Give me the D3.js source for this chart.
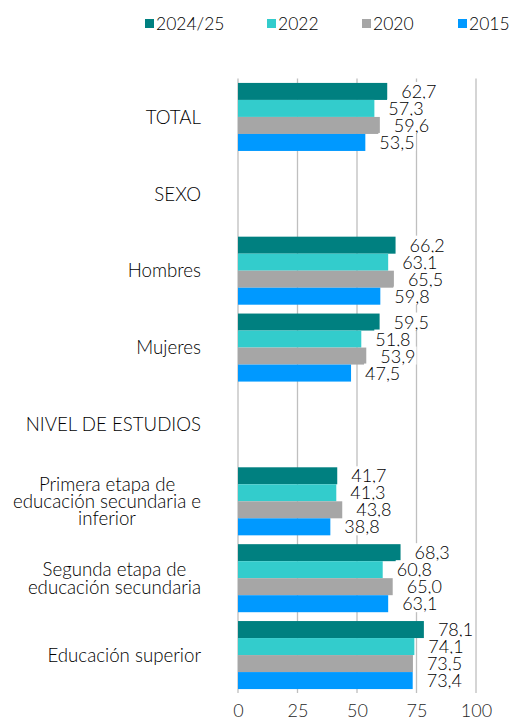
<!DOCTYPE html>
<html>
<head>
<meta charset="utf-8">
<script src="https://cdn.jsdelivr.net/npm/d3@7"></script>
<style>
  html, body { margin: 0; padding: 0; background: #fff; }
  svg { display: block; font-family: Lato, "Noto Sans", sans-serif; font-weight: 300; }
</style>
</head>
<body>
<svg id="chart" width="509" height="720"></svg>
<script>
// Categories (rows); SEXO and NIVEL DE ESTUDIOS are section headers without bars
const categories = [
  "TOTAL",
  "SEXO",
  "Hombres",
  "Mujeres",
  "NIVEL DE ESTUDIOS",
  "Primera etapa de educación secundaria e inferior",
  "Segunda etapa de educación secundaria",
  "Educación superior"
];
const categoryLines = [
  ["TOTAL"],
  ["SEXO"],
  ["Hombres"],
  ["Mujeres"],
  ["NIVEL DE ESTUDIOS"],
  ["Primera etapa de", "educación secundaria e", "inferior"],
  ["Segunda etapa de", "educación secundaria"],
  ["Educación superior"]
];
const seriesNames = ["2024/25", "2022", "2020", "2015"];
const values2024 = [62.7, null, 66.2, 59.5, null, 41.7, 68.3, 78.1];
const values2022 = [57.3, null, 63.1, 51.8, null, 41.3, 60.8, 74.1];
const values2020 = [59.6, null, 65.5, 53.9, null, 43.8, 65.0, 73.5];
const values2015 = [53.5, null, 59.8, 47.5, null, 38.8, 63.1, 73.4];
const xTicks = [0, 25, 50, 75, 100];

const seriesValues = [values2024, values2022, values2020, values2015];
const colors = ["#008080", "#33CCCC", "#A6A6A6", "#0099FF"];

const svg = d3.select("#chart");
const textColor = "#000";

const x = d3.scaleLinear().domain([0, 100]).range([238, 476]);
const y = d3.scaleBand().domain(categories).range([78.5, 693.5])
  .paddingInner(0.115).paddingOuter(0.0575);
const ySub = d3.scaleBand().domain(seriesNames).range([0, y.bandwidth()]);
const color = d3.scaleOrdinal().domain(seriesNames).range(colors);

// Vertical gridlines
svg.append("g")
  .selectAll("line")
  .data(xTicks)
  .join("line")
  .attr("x1", d => x(d)).attr("x2", d => x(d))
  .attr("y1", 78.5).attr("y2", 693)
  .attr("stroke", "#BFBFBF")
  .attr("stroke-width", 1.3);

// Bottom axis labels
const axis = d3.axisBottom(x).tickValues(xTicks).tickSize(0).tickPadding(0)
  .tickFormat(d3.format("d"));
const axisG = svg.append("g").attr("transform", "translate(0,717)").call(axis);
axisG.select(".domain").remove();
axisG.selectAll("text")
  .attr("font-size", 18).attr("fill", "#262626")
  .attr("font-family", "Lato, sans-serif")
  .attr("font-weight", 300)
  .attr("dy", 0).attr("y", 0);

// One record per drawn bar
const records = [];
categories.forEach((c, i) => {
  seriesNames.forEach((s, j) => {
    const v = seriesValues[j][i];
    if (v != null) records.push({ cat: c, series: s, value: v });
  });
});

// Bars
svg.append("g")
  .selectAll("rect")
  .data(records)
  .join("rect")
  .attr("x", x(0))
  .attr("y", d => y(d.cat) + ySub(d.series))
  .attr("width", d => x(d.value) - x(0))
  .attr("height", ySub.bandwidth())
  .attr("fill", d => color(d.series));

// Value labels on a white backing
const fmt = v => d3.format(".1f")(v).replace(".", ",");
const labelG = svg.append("g");
records.forEach(d => {
  const g = labelG.append("g");
  const t = g.append("text")
    .attr("x", x(d.value) + 14)
    .attr("y", y(d.cat) + ySub(d.series) + ySub.bandwidth() / 2)
    .attr("dy", "0.36em")
    .attr("font-size", 18)
    .attr("fill", textColor)
    .text(fmt(d.value));
  const bb = t.node().getBBox();
  g.insert("rect", "text")
    .attr("x", bb.x - 1).attr("y", bb.y + 2)
    .attr("width", bb.width + 2).attr("height", bb.height - 4)
    .attr("fill", "#fff");
});

// Category labels: wrapped lines centred within a block that is right-aligned
const catG = svg.append("g");
categories.forEach((c, i) => {
  const lines = categoryLines[i];
  const lh = 17.3;
  const cy = y(c) + y.bandwidth() / 2;
  const texts = lines.map((ln, k) => catG.append("text")
    .attr("y", cy + (k - (lines.length - 1) / 2) * lh)
    .attr("dy", "0.36em")
    .attr("font-size", 18.7)
    .attr("fill", textColor)
    .attr("text-anchor", "middle")
    .text(ln));
  const maxW = d3.max(texts, t => t.node().getComputedTextLength());
  texts.forEach(t => t.attr("x", 201 - maxW / 2));
});

// Legend
const legendX = [145, 267, 362, 458];
const leg = svg.append("g");
seriesNames.forEach((s, i) => {
  leg.append("rect")
    .attr("x", legendX[i]).attr("y", 19)
    .attr("width", 9).attr("height", 9)
    .attr("fill", color(s));
  leg.append("text")
    .attr("x", legendX[i] + 11).attr("y", 23.5)
    .attr("dy", "0.36em")
    .attr("font-size", 17.5)
    .attr("fill", textColor)
    .text(s);
});
</script>
</body>
</html>
